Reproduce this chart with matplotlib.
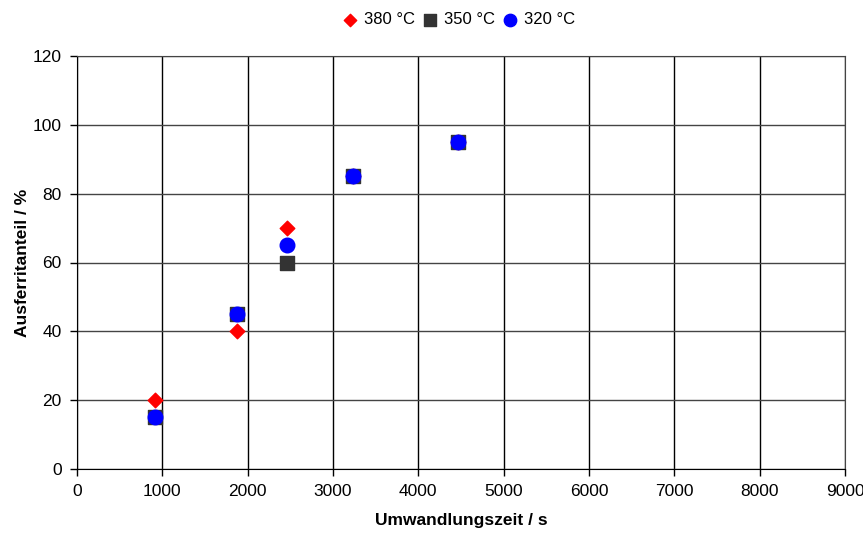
import matplotlib.pyplot as plt

plt.rcParams['font.family'] = ['Liberation Sans', 'DejaVu Sans']

# Umwandlungszeit in s, Ausferritanteil in %
zeit = [915, 1875, 2460, 3230, 4470]
anteil_380 = [20, 40, 70, 85, 95]
anteil_350 = [15, 45, 60, 85, 95]
anteil_320 = [15, 45, 65, 85, 95]

fig = plt.figure(figsize=(8.63, 5.33), dpi=100)
ax = fig.add_axes([77/863, 1 - 469/533, 768/863, 413/533])

ax.scatter(zeit, anteil_380, marker='D', s=55, color='red', label='380 °C', zorder=3)
ax.scatter(zeit, anteil_350, marker='s', s=110, color='#333333', label='350 °C', zorder=4)
ax.scatter(zeit, anteil_320, marker='o', s=110, color='blue', label='320 °C', zorder=5)

ax.set_xlim(0, 9000)
ax.set_ylim(0, 120)
ax.set_xticks(range(0, 9001, 1000))
ax.set_yticks(range(0, 121, 20))
ax.xaxis.grid(True, color='black', lw=1)
ax.yaxis.grid(True, color='#444444', lw=1)
ax.set_axisbelow(True)
ax.tick_params(labelsize=12.5, length=5, width=1, direction='out', pad=6)
for s in ['top', 'right']:
    ax.spines[s].set_color('#444444')
for s in ['left', 'bottom']:
    ax.spines[s].set_color('black')

ax.set_xlabel('Umwandlungszeit / s', fontsize=12.5, fontweight='bold', labelpad=10)
ax.set_ylabel('Ausferritanteil / %', fontsize=12.5, fontweight='bold', labelpad=2)

fig.legend(loc='center', bbox_to_anchor=(459/863, 1 - 20/533), ncol=3, frameon=False,
           fontsize=12, handlelength=0.8, handletextpad=0.45, columnspacing=0.5,
           markerscale=0.85, scatterpoints=1)

fig.savefig('out.png', dpi=100)
